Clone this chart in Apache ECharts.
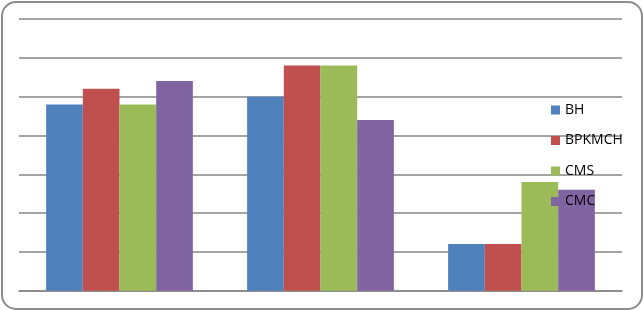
<!DOCTYPE html>
<html><head><meta charset="utf-8">
<script src="https://cdn.jsdelivr.net/npm/echarts@6/dist/echarts.min.js"></script>
<style>html,body{margin:0;padding:0;background:#fff;}#c{width:643px;height:310px;}</style>
</head><body><div id="c"></div>
<script>
const categories = ['A', 'B', 'C'];
const seriesNames = ['BH', 'BPKMCH', 'CMS', 'CMC'];
const BH = [4.8, 5.0, 1.2];
const BPKMCH = [5.2, 5.8, 1.2];
const CMS = [4.8, 5.8, 2.8];
const CMC = [5.4, 4.4, 2.6];
const values = [BH, BPKMCH, CMS, CMC];
const colors = ['#4F81BD', '#C0504D', '#9BBB59', '#8064A2'];

const chart = echarts.init(document.getElementById('c'), null, {renderer: 'canvas'});
chart.setOption({
  animation: false,
  color: colors,
  graphic: [{
    type: 'rect', left: 1, top: 1, z: -10,
    shape: {width: 640, height: 307, r: 14},
    style: {fill: '#fff', stroke: '#8c8c8c', lineWidth: 2}
  }],
  grid: {left: 19, right: 21, top: 19, bottom: 19.3, containLabel: false},
  legend: {
    orient: 'vertical', left: 551, top: 102, padding: 0,
    itemWidth: 9, itemHeight: 9, itemGap: 14.5, icon: 'rect',
    textStyle: {fontFamily: 'Open Sans', fontSize: 14, color: '#000', lineHeight: 16, padding: [0, 0, 0, 0]},
    data: seriesNames, z: 10
  },
  xAxis: {
    type: 'category', data: categories,
    axisLine: {show: true, lineStyle: {color: '#868686', width: 1.5}},
    axisTick: {show: false}, axisLabel: {show: false}
  },
  yAxis: {
    type: 'value', min: 0, max: 7, interval: 1,
    axisLine: {show: false}, axisTick: {show: false}, axisLabel: {show: false},
    splitLine: {lineStyle: {color: '#868686', width: 1.5}}
  },
  series: seriesNames.map((n, i) => ({
    name: n, type: 'bar', data: values[i],
    barGap: '0%', barCategoryGap: '27%'
  }))
});
</script></body></html>
